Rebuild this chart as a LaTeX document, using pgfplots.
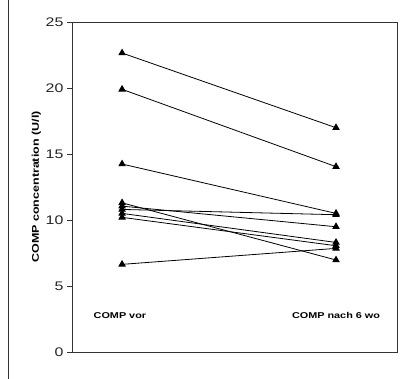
\documentclass[border=0pt]{standalone}
\usepackage{fontspec}
\setmainfont{Liberation Sans}[FakeStretch=1.28]
\usepackage{pgfplots}
\pgfplotsset{compat=1.18}
\pgfplotsset{subj/.style={color=black, solid, line width=0.8bp, mark=triangle*, mark size=3.6bp, mark options={solid, fill=black, draw=black}}}
\begin{document}
\begin{tikzpicture}[x=1bp,y=1bp]
\useasboundingbox (0,0) rectangle (406,379);
\draw[line width=0.9bp, black!80] (8,0) -- (8,379);
\begin{axis}[
  at={(72bp,27bp)}, anchor=south west,
  scale only axis, width=325bp, height=330bp,
  xmin=0.766, xmax=2.285, ymin=0, ymax=25,
  xtick=\empty,
  ytick={0,5,10,15,20,25},
  axis line style={black!80, line width=0.9bp},
  y tick style={black!80, line width=0.9bp},
  tick align=outside, tick pos=left,
  major tick length=5bp,
  yticklabel style={font=\fontsize{12.5}{14}\selectfont, text=black!85},
  /pgf/number format/assume math mode=true,
  ylabel={COMP concentration (U/l)},
  ylabel style={font=\fontsize{9.8}{11}\selectfont\bfseries, at={(axis description cs:-0.11,0.5)}, anchor=center},
  clip=false,
]
\addplot[subj] coordinates {(1,22.65) (2,16.99)};
\addplot[subj] coordinates {(1,19.9) (2,14.04)};
\addplot[subj] coordinates {(1,14.24) (2,10.5)};
\addplot[subj] coordinates {(1,11.3) (2,6.97)};
\addplot[subj] coordinates {(1,11.05) (2,9.49)};
\addplot[subj] coordinates {(1,10.8) (2,10.4)};
\addplot[subj] coordinates {(1,10.5) (2,8.3)};
\addplot[subj] coordinates {(1,10.2) (2,8.05)};
\addplot[subj] coordinates {(1,6.64) (2,7.85)};
\node[font=\fontsize{8.5}{10}\selectfont\bfseries] at (axis cs:0.99,2.75) {COMP vor};
\node[font=\fontsize{8.5}{10}\selectfont\bfseries] at (axis cs:2.0,2.75) {COMP nach 6 wo};
\end{axis}
\end{tikzpicture}
\end{document}
